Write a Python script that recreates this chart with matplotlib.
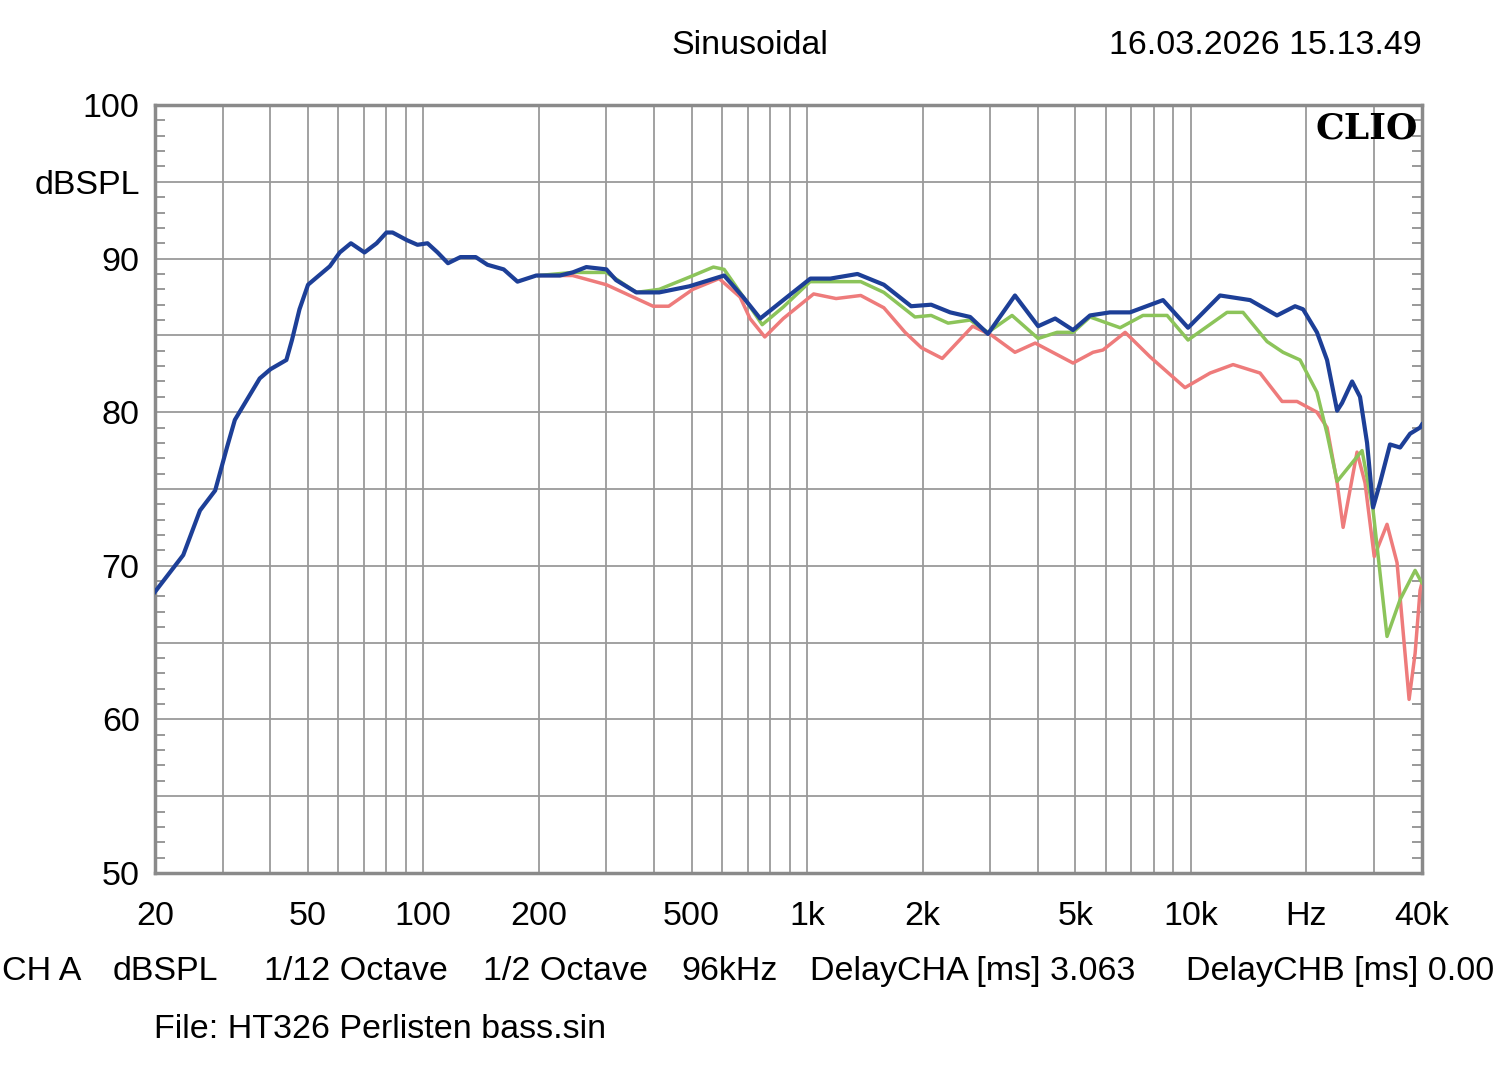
import numpy as np
import matplotlib
matplotlib.use("Agg")
import matplotlib.pyplot as plt
from matplotlib.ticker import FixedLocator, NullFormatter

plt.rcParams["font.family"] = ["Liberation Sans", "DejaVu Sans"]

# blue trace (full range)
blue_f = [20, 23.7, 26.2, 28.7, 30.8, 32.3, 37.5, 40, 44, 45.5, 47.6, 50.1, 52.9, 57.1,
          60.6, 64.8, 70.3, 75.6, 80.2, 83.2, 90.7, 96.6, 102.6, 109, 116, 125, 137, 147,
          162, 176, 197, 227, 245, 266, 300, 318, 359, 412, 494, 608, 681, 755, 867, 1020,
          1150, 1353, 1585, 1867, 2105, 2360, 2660, 2960, 3480, 4000, 4430, 4930, 5460,
          6150, 6940, 8460, 9830, 11910, 14260, 16760, 18680, 19600, 21300, 22630, 24040,
          24760, 26300, 27580, 28770, 29830, 31100, 33020, 35080, 37240, 39540, 40000]
blue_db = [68.3, 70.7, 73.6, 74.9, 77.7, 79.5, 82.2, 82.8, 83.4, 84.7, 86.7, 88.3, 88.8, 89.5,
           90.4, 91.0, 90.4, 91.0, 91.7, 91.7, 91.2, 90.9, 91.0, 90.4, 89.7, 90.1, 90.1, 89.6,
           89.3, 88.5, 88.9, 88.9, 89.1, 89.45, 89.3, 88.6, 87.8, 87.8, 88.2, 88.9, 87.5, 86.1,
           87.3, 88.7, 88.7, 89.0, 88.3, 86.9, 87.0, 86.5, 86.2, 85.1, 87.6, 85.6, 86.1, 85.35,
           86.3, 86.5, 86.5, 87.3, 85.5, 87.6, 87.3, 86.3, 86.9, 86.7, 85.2, 83.4, 80.1,
           80.6, 82.0, 81.0, 78.0, 73.8, 75.4, 77.9, 77.7, 78.6, 79.0, 79.2]

# green trace (from 200 Hz, identical to blue below)
green_f = [200, 245, 261, 300, 359, 412, 494, 570, 608, 700, 764, 867, 1018, 1190, 1380,
           1585, 1910, 2105, 2330, 2660, 2960, 3420, 4000, 4480, 4930, 5460, 6540, 7500,
           8670, 9830, 12420, 13670, 15790, 17380, 19250, 21300, 22630, 24040, 27920,
           29830, 32430, 35080, 38380, 39540, 40000]
green_db = [88.9, 89.1, 89.1, 89.1, 87.8, 88.0, 88.8, 89.45, 89.3, 87.1, 85.7, 86.85, 88.5,
            88.5, 88.5, 87.8, 86.2, 86.3, 85.8, 86.0, 85.2, 86.3, 84.8, 85.2, 85.2, 86.2,
            85.5, 86.3, 86.3, 84.7, 86.5, 86.5, 84.6, 83.9, 83.4, 81.3, 78.6, 75.5, 77.5,
            73.6, 65.4, 67.8, 69.7, 69.1, 68.9]

# red trace (from 200 Hz)
red_f = [200, 245, 300, 397, 436, 504, 590, 669, 710, 776, 867, 1040, 1190, 1380, 1585,
         1800, 1985, 2250, 2700, 3030, 3480, 3930, 4930, 5560, 5900, 6740, 7830, 9650,
         11220, 12880, 15140, 17280, 18900, 21300, 22630, 24040, 24920, 27090, 28420,
         30030, 32430, 34440, 37020, 38380, 39540, 40000]
red_db = [88.9, 88.9, 88.3, 86.9, 86.9, 88.0, 88.7, 87.5, 86.1, 84.9, 86.1, 87.7, 87.4,
          87.6, 86.8, 85.2, 84.2, 83.5, 85.6, 85.0, 83.9, 84.5, 83.2, 83.9, 84.05, 85.2,
          83.6, 81.6, 82.55, 83.1, 82.55, 80.7, 80.7, 80.0, 79.0, 75.4, 72.5, 77.4, 75.4,
          70.6, 72.7, 70.2, 61.3, 64.3, 68.4, 68.9]

xtick_vals = [20, 50, 100, 200, 500, 1000, 2000, 5000, 10000, 20000, 40000]
xtick_labels = ["20", "50", "100", "200", "500", "1k", "2k", "5k", "10k", "Hz", "40k"]
ytick_vals = [50, 55, 60, 65, 70, 75, 80, 85, 90, 95, 100]
ytick_labels = ["50", "", "60", "", "70", "", "80", "", "90", "dBSPL", "100"]

FS = 24.5

fig = plt.figure(figsize=(15, 10.74), dpi=100)
ax = fig.add_axes([0.1033, 0.1872, 0.8447, 0.715])

ax.semilogx(red_f, red_db, color="#ee7b7b", lw=2.5, zorder=3, solid_joinstyle="round")
ax.semilogx(green_f, green_db, color="#8cc45a", lw=2.5, zorder=4, solid_joinstyle="round")
ax.semilogx(blue_f, blue_db, color="#1d3f97", lw=3.0, zorder=5, solid_joinstyle="round")

ax.set_xlim(20, 40000)
ax.set_ylim(50, 100)

grid_f = []
for dec in [10, 100, 1000, 10000]:
    for m in range(1, 10):
        v = dec * m
        if 20 <= v <= 40000:
            grid_f.append(v)
ax.xaxis.set_major_locator(FixedLocator(xtick_vals))
ax.set_xticklabels(xtick_labels)
ax.xaxis.set_minor_locator(FixedLocator(grid_f))
ax.xaxis.set_minor_formatter(NullFormatter())
ax.set_yticks(ytick_vals)
ax.set_yticklabels(ytick_labels)
ax.yaxis.set_minor_locator(FixedLocator(np.arange(50, 101, 1)))

ax.grid(True, which="both", axis="x", color="#9a9a9a", lw=1.3)
ax.grid(True, which="major", axis="y", color="#9a9a9a", lw=1.3)

ax.tick_params(axis="x", which="both", length=0, labelsize=FS, pad=20)
ax.tick_params(axis="y", which="major", length=0, labelsize=FS, pad=11)
ax.tick_params(axis="y", which="minor", direction="in", length=7, width=1.2,
               color="#888888", left=True, right=True)

for s in ax.spines.values():
    s.set_color("#8a8a8a")
    s.set_linewidth(2.5)

ax.text(0.997, 0.992, "CLIO", transform=ax.transAxes, ha="right", va="top",
        fontsize=26, fontweight="bold", family="DejaVu Serif")

fig.text(0.5, 0.958, "Sinusoidal", ha="center", va="center", fontsize=FS)
fig.text(0.948, 0.958, "16.03.2026 15.13.49", ha="right", va="center", fontsize=FS)

bottom = [(0.001, "CH A"), (0.075, "dBSPL"), (0.176, "1/12 Octave"), (0.322, "1/2 Octave"),
          (0.454, "96kHz"), (0.54, "DelayCHA [ms] 3.063"), (0.791, "DelayCHB [ms] 0.00")]
for xp, t in bottom:
    fig.text(xp, 0.095, t, ha="left", va="center", fontsize=FS)
fig.text(0.103, 0.041, "File: HT326 Perlisten bass.sin", ha="left", va="center", fontsize=FS)

fig.savefig("out.png", dpi=100, facecolor="white")
